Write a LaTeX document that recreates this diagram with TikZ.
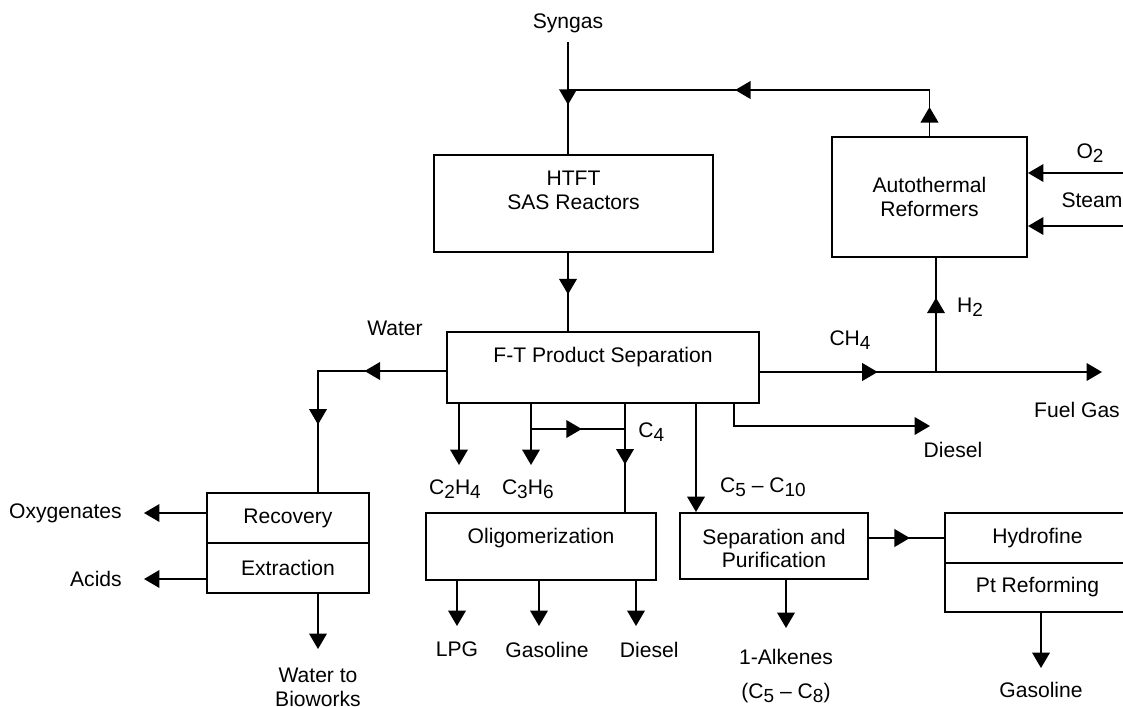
\documentclass[tikz,border=0pt]{standalone}
\usepackage{fontspec}
\setmainfont{Liberation Sans}
\usepackage{tikz}
\usetikzlibrary{positioning,fit,arrows.meta,decorations.markings}
\tikzset{pipe/.style={line width=1.4pt}}
\tikzset{flow/.style={pipe,-{Triangle[length=11pt,width=12.5pt]}}}
\tikzset{flowat/.style={postaction={decorate,decoration={markings,mark=at position #1 with {\arrow{Triangle[length=11pt,width=12.5pt]}}}}}}
\tikzset{unit/.style={draw,line width=1.4pt,inner sep=0pt}}
\tikzset{tag/.style={inner sep=0pt,align=center}}
\newcommand{\chsub}[1]{\raisebox{-3pt}{\fontsize{13.5}{14}\selectfont #1}}

\begin{document}
\begin{tikzpicture}[x=0.025cm,y=-0.025cm,font=\fontsize{15}{17}\selectfont]
		\useasboundingbox (0,0) rectangle (1123,706);
		% process units
		\node[unit,fit={(434,155) (713,252)}] (htft) {};
		\node[tag,below=0.41cm of htft.north] (htfttxt) {HTFT\\SAS Reactors};
		\node[unit,fit={(447,332) (759,403)}] (ft) {};
		\node[tag,below=0.39cm of ft.north] (fttxt) {F-T Product Separation};
		\node[unit,fit={(832,137) (1027,257)}] (atr) {};
		\node[tag] (atrtxt) at (atr) {Autothermal\\Reformers};
		\node[unit,fit={(207,493) (369,543)}] (rec) {};
		\node[tag] (rectxt) at (rec) {Recovery};
		\node[unit,fit={(207,543) (369,593)}] (ext) {};
		\node[tag] (exttxt) at (ext) {Extraction};
		\node[unit,fit={(426,513) (656,580)}] (olig) {};
		\node[tag,below=0.41cm of olig.north] (oligtxt) {Oligomerization};
		\node[unit,fit={(680,513) (868,579)}] (sep) {};
		\node[tag,yshift=-0.06cm] (septxt) at (sep) {Separation and\\Purification};
		\node[unit,fit={(945,513) (1130,563)}] (hyd) {};
		\node[tag] (hydtxt) at (hyd) {Hydrofine};
		\node[unit,fit={(945,563) (1130,612)}] (ptr) {};
		\node[tag] (ptrtxt) at (ptr) {Pt Reforming};
		% syngas feed and recycle
		\node[tag] (syngas) at (568,23) {Syngas};
		\coordinate (feed) at (568,42);
		\coordinate (mix) at (568,90);
		\path[draw,pipe,flowat=0.56] (feed) -- (feed |- htft.north);
		\path[draw,pipe,flowat=0.071,flowat=0.59] (atr.north) -- (atr.north |- mix) -- (mix);
		\path[draw,pipe,flowat=0.53] (htft.south -| feed) -- (ft.north -| feed);
		% water side
		\coordinate (wdrop) at (318,371);
		\node[tag] (water) at (395,328) {Water};
		\path[draw,pipe,flowat=0.327,flowat=0.729] (ft.west |- wdrop) -- (wdrop) -- (wdrop |- rec.north);
		\coordinate (oxyend) at (144,513);
		\path[draw,flow] (rec.west |- oxyend) -- (oxyend);
		\node[tag,left=0.55cm of oxyend] (oxy) {Oxygenates};
		\coordinate (acidend) at (144,579);
		\path[draw,flow] (ext.west |- acidend) -- (acidend);
		\node[tag,left=0.55cm of acidend] (acids) {Acids};
		\coordinate (bioend) at (318,649);
		\path[draw,flow] (bioend |- ext.south) -- (bioend);
		\node[tag,below=0.46cm of bioend] (bio) {Water to\\Bioworks};
		% light olefins
		\coordinate (c2end) at (459,465);
		\path[draw,flow] (c2end |- ft.south) -- (c2end);
		\node[tag,below=0.36cm of c2end,xshift=-0.1cm] (c2) {C\chsub{2}H\chsub{4}};
		\coordinate (c3end) at (531,465);
		\path[draw,flow] (c3end |- ft.south) -- (c3end);
		\node[tag,below=0.36cm of c3end,xshift=-0.08cm] (c3) {C\chsub{3}H\chsub{6}};
		\coordinate (c3split) at (531,429);
		\coordinate (c4drop) at (625,429);
		\path[draw,pipe,flowat=0.54] (c3split) -- (c4drop);
		\path[draw,pipe,flowat=0.56] (ft.south -| c4drop) -- (olig.north -| c4drop);
		\node[tag,anchor=west] (c4) at (638,432) {C\chsub{4}};
		% C5 - C10 and diesel
		\coordinate (c5x) at (696,485);
		\path[draw,flow] (ft.south -| c5x) -- (sep.north -| c5x);
		\node[tag] (c5) at (763,487) {C\chsub{5} -- C\chsub{10}};
		\coordinate (dslturn) at (734,426);
		\coordinate (dslend) at (930,426);
		\path[draw,flow] (ft.south -| dslturn) -- (dslturn) -- (dslend);
		\node[tag] (dsl) at (953,450) {Diesel};
		% oligomerization products
		\coordinate (lpgend) at (457,626);
		\path[draw,flow] (olig.south -| lpgend) -- (lpgend);
		\node[tag,below=0.39cm of lpgend] (lpg) {LPG};
		\coordinate (gasend) at (539,626);
		\path[draw,flow] (olig.south -| gasend) -- (gasend);
		\node[tag,below=0.39cm of gasend,xshift=0.2cm] (gas) {Gasoline};
		\coordinate (olgdslend) at (636,626);
		\path[draw,flow] (olig.south -| olgdslend) -- (olgdslend);
		\node[tag,below=0.39cm of olgdslend,xshift=0.33cm] (olgdsl) {Diesel};
		% separation products
		\coordinate (alkend) at (786,628);
		\path[draw,flow] (sep.south -| alkend) -- (alkend);
		\node[tag,below=0.52cm of alkend] (alk) {1-Alkenes\\[7pt](C\chsub{5} -- C\chsub{8})};
		\path[draw,pipe,flowat=0.545] (sep.east |- hyd.west) -- (hyd.west);
		\coordinate (gas2end) at (1041,668);
		\path[draw,flow] (ptr.south -| gas2end) -- (gas2end);
		\node[tag,below=0.36cm of gas2end] (gas2) {Gasoline};
		% reformer feeds
		\coordinate (o2in) at (1123,173);
		\path[draw,flow] (o2in) -- (o2in -| atr.east);
		\node[tag] (o2) at (1090,153) {O\chsub{2}};
		\coordinate (stin) at (1123,226);
		\path[draw,flow] (stin) -- (stin -| atr.east);
		\node[tag] (steam) at (1092,200) {Steam};
		% methane
		\coordinate (ch4split) at (936,372);
		\coordinate (fuelend) at (1102,372);
		\path[draw,flow,flowat=0.344] (ft.east |- ch4split) -- (fuelend);
		\path[draw,pipe,flowat=0.652] (ch4split) -- (atr.south -| ch4split);
		\node[tag] (h2) at (970,307) {H\chsub{2}};
		\node[tag] (ch4) at (850,340) {CH\chsub{4}};
		\node[tag] (fuel) at (1077,410) {Fuel Gas};
	\end{tikzpicture}
\end{document}
